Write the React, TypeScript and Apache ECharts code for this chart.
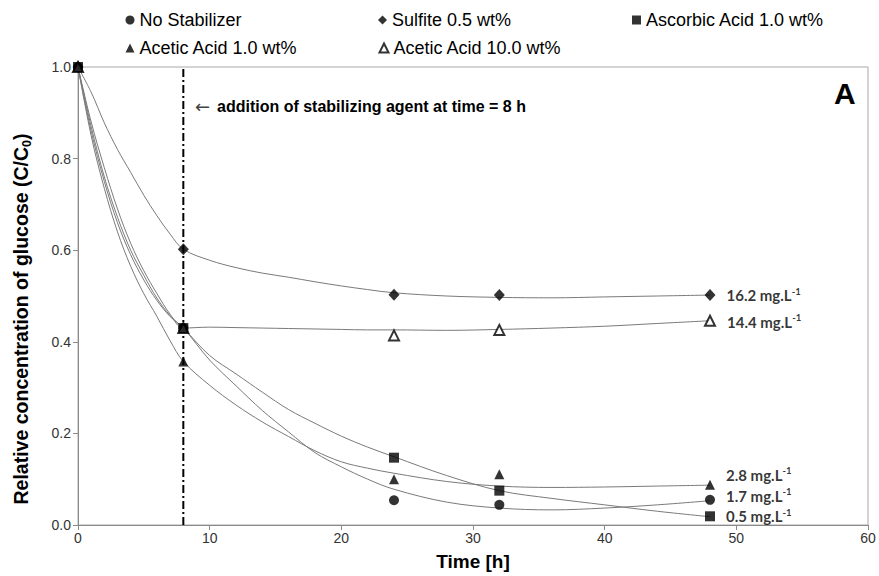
import React, { useEffect, useRef } from "react";
import * as echarts from "echarts";

// ---------- data ----------
const seriesNames = [
  "No Stabilizer",
  "Sulfite 0.5 wt%",
  "Ascorbic Acid 1.0 wt%",
  "Acetic Acid 1.0 wt%",
  "Acetic Acid 10.0 wt%",
];
const sampleTimes = [0, 8, 24, 32, 48];
const noStabilizer = [1.0, 0.43, 0.054, 0.044, 0.055];
const sulfite = [1.0, 0.602, 0.503, 0.502, 0.502];
const ascorbic = [1.0, 0.43, 0.147, 0.075, 0.019];
const acetic1 = [1.0, 0.357, 0.1, 0.111, 0.088];
const acetic10 = [1.0, 0.43, 0.414, 0.426, 0.446];

// trend curves
const trendTimes = [0, 1, 2, 3, 4, 5, 6, 7, 8, 10, 12, 14, 16, 18, 20, 22, 24, 28, 32, 36, 40, 44, 48];
const trendNoStabilizer = [1.0, 0.86, 0.75, 0.66, 0.59, 0.535, 0.49, 0.455, 0.43, 0.36, 0.304, 0.25, 0.203, 0.158, 0.127, 0.1, 0.078, 0.05, 0.037, 0.033, 0.037, 0.044, 0.053];
const trendSulfite = [1.0, 0.945, 0.878, 0.82, 0.77, 0.72, 0.675, 0.635, 0.602, 0.578, 0.562, 0.55, 0.541, 0.531, 0.522, 0.514, 0.507, 0.5, 0.497, 0.496, 0.498, 0.5, 0.502];
const trendAscorbic = [1.0, 0.87, 0.76, 0.672, 0.6, 0.545, 0.495, 0.457, 0.43, 0.37, 0.33, 0.29, 0.252, 0.222, 0.194, 0.17, 0.149, 0.108, 0.075, 0.058, 0.044, 0.03, 0.018];
const trendAcetic1 = [1.0, 0.85, 0.735, 0.64, 0.565, 0.505, 0.455, 0.402, 0.357, 0.305, 0.262, 0.225, 0.193, 0.162, 0.138, 0.124, 0.113, 0.095, 0.085, 0.082, 0.083, 0.085, 0.087];
const trendAcetic10 = [1.0, 0.88, 0.78, 0.69, 0.615, 0.555, 0.505, 0.46, 0.43, 0.432, 0.431, 0.43, 0.429, 0.428, 0.427, 0.426, 0.426, 0.425, 0.427, 0.43, 0.434, 0.44, 0.446];

const endLabels = ["1.7", "16.2", "0.5", "2.8", "14.4"];
const additionTime = 8;
const additionLineSpan = [0, 0.997];

const xTicks = { min: 0, max: 60, interval: 10 };
const yTicks = { min: 0, max: 1, interval: 0.2 };

const FONT = '"Liberation Sans", Arial, sans-serif';

export default function App() {
  const ref = useRef<HTMLDivElement>(null);

  useEffect(() => {
    if (!ref.current) return;
    const chart = echarts.init(ref.current, undefined, { renderer: "svg" });

    const values = [noStabilizer, sulfite, ascorbic, acetic1, acetic10];
    const trends = [trendNoStabilizer, trendSulfite, trendAscorbic, trendAcetic1, trendAcetic10];
    const symbols = ["circle", "diamond", "rect", "triangle", "triangle"];
    const sizes: any[] = [10, [11, 12], 10, 10, 10];
    const labelOffsets = [[0, -4], [0, 0], [0, 0], [0, -10], [0, 1]];
    const drawOrder = [0, 1, 3, 4, 2];

    const trendSeries = trends.map((tr, i) => ({
      type: "line",
      name: "trend" + i,
      data: trendTimes.map((t, k) => [t, tr[k]]),
      smooth: 0.35,
      showSymbol: false,
      symbol: "none",
      silent: true,
      lineStyle: { color: "#7a7a7a", width: 1 },
      z: 2,
    }));

    const markerSeries = drawOrder.map((i) => ({
      type: "scatter",
      name: seriesNames[i],
      symbol: symbols[i],
      symbolSize: sizes[i],
      itemStyle:
        i === 4
          ? { color: "#ffffff", borderColor: "#000000", borderWidth: 2 }
          : { color: "#000000" },
      z: 5,
      data: sampleTimes.map((t, k) => {
        const item: any = { value: [t, values[i][k]] };
        if (k === sampleTimes.length - 1) {
          item.label = {
            show: true,
            position: "right",
            distance: 11,
            offset: labelOffsets[i],
            formatter: `{v|${endLabels[i]} mg.L}{s|-1}`,
            rich: {
              v: { fontFamily: "Lato, sans-serif", fontWeight: "bold", fontSize: 15, color: "#000", lineHeight: 18 },
              s: { fontFamily: "Lato, sans-serif", fontWeight: "bold", fontSize: 9.5, color: "#000", lineHeight: 10, verticalAlign: "top" },
            },
          };
        }
        return item;
      }),
    }));

    const legendPos = [
      { left: 125.5, top: 11 },
      { left: 378, top: 11 },
      { left: 632, top: 11 },
      { left: 125.5, top: 39 },
      { left: 378.5, top: 39 },
    ];

    const option: any = {
      animation: false,
      backgroundColor: "#ffffff",
      textStyle: { fontFamily: FONT },
      legend: seriesNames.map((n, i) => ({
        data: [n],
        left: legendPos[i].left,
        top: legendPos[i].top,
        padding: 0,
        itemWidth: 9,
        itemHeight: 9,
        selectedMode: false,
        textStyle: { fontSize: 18, color: "#000", fontFamily: FONT },
      })),
      grid: {
        left: 78,
        right: 11,
        top: 67,
        bottom: 49,
        show: true,
        borderColor: "#a8a8a8",
        borderWidth: 1,
        containLabel: false,
      },
      xAxis: {
        type: "value",
        min: xTicks.min,
        max: xTicks.max,
        interval: xTicks.interval,
        name: "Time [h]",
        nameLocation: "middle",
        nameGap: 27,
        nameTextStyle: { fontSize: 19, fontWeight: "bold", color: "#000", fontFamily: FONT },
        axisLine: { show: true, lineStyle: { color: "#8a8a8a", width: 1 } },
        axisTick: { show: true, inside: false, length: 5, lineStyle: { color: "#8a8a8a" } },
        axisLabel: { fontSize: 14, color: "#333", margin: 6, fontFamily: FONT },
        splitLine: { show: false },
      },
      yAxis: {
        type: "value",
        min: yTicks.min,
        max: yTicks.max,
        interval: yTicks.interval,
        axisLine: { show: true, lineStyle: { color: "#8a8a8a", width: 1 } },
        axisTick: { show: true, inside: false, length: 5, lineStyle: { color: "#8a8a8a" } },
        axisLabel: {
          fontSize: 14,
          color: "#333",
          margin: 7,
          fontFamily: FONT,
          formatter: (v: number) => v.toFixed(1),
        },
        splitLine: { show: false },
      },
      graphic: [
        {
          type: "text",
          x: 21,
          y: 319,
          rotation: Math.PI / 2,
          style: {
            text: "{t|Relative concentration of glucose (C/C}{sub|0}{t|)}",
            align: "center",
            verticalAlign: "middle",
            rich: {
              t: { fontSize: 19.5, fontWeight: "bold", fill: "#000", fontFamily: FONT, lineHeight: 24 },
              sub: { fontSize: 12.5, fontWeight: "bold", fill: "#000", fontFamily: FONT, lineHeight: 24, verticalAlign: "bottom" },
            },
          },
        },
        {
          type: "text",
          left: 195,
          top: 97,
          style: { text: "\u2190", fontSize: 18, fill: "#444", fontFamily: '"DejaVu Sans", sans-serif' },
        },
        {
          type: "text",
          left: 217,
          top: 98,
          style: {
            text: "addition of stabilizing agent at time = 8 h",
            fontSize: 16,
            fontWeight: "bold",
            fill: "#000",
            fontFamily: FONT,
          },
        },
        {
          type: "text",
          left: 834,
          top: 78,
          style: { text: "A", fontSize: 30, fontWeight: "bold", fill: "#000", fontFamily: FONT },
        },
      ],
      series: [
        ...trendSeries,
        {
          type: "line",
          name: "addition",
          data: additionLineSpan.map((v) => [additionTime, v]),
          showSymbol: false,
          symbol: "none",
          silent: true,
          lineStyle: { color: "#000", width: 2, type: [8, 3, 2, 3] },
          z: 3,
        },
        ...markerSeries,
      ],
    };

    chart.setOption(option);
    return () => chart.dispose();
  }, []);

  return (
    <div
      ref={ref}
      style={{ position: "fixed", left: 0, top: 0, width: 879, height: 576 }}
    />
  );
}
